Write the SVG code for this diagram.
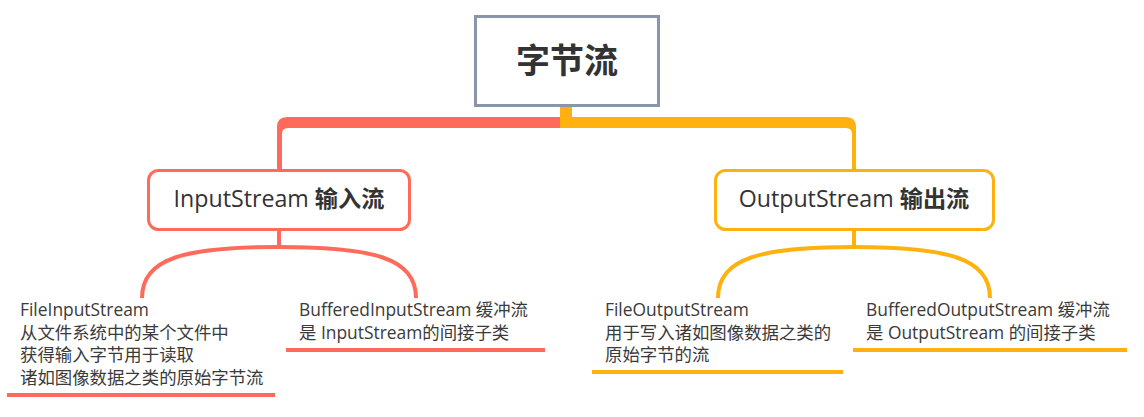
<svg xmlns="http://www.w3.org/2000/svg" width="1144" height="417" viewBox="0 0 1144 417">
<style>
.bg{fill:#ffffff}
.root{fill:#ffffff;stroke:#8a96a8;stroke-width:3}
.in{fill:#ffffff;stroke:#ff6b5b;stroke-width:3}
.out{fill:#ffffff;stroke:#ffb20f;stroke-width:3}
.t{font-family:"Open Sans","Noto Sans CJK SC",sans-serif;fill:#333333}
.h{font-size:23.2px}
.cjkb{font-family:"Noto Sans CJK SC",sans-serif;font-weight:bold}
.d{font-family:"Open Sans","Noto Sans CJK SC",sans-serif;font-size:17.4px;fill:#3a3a3a}
.redf{fill:#ff6b5b}
.yelf{fill:#ffb20f}
.reds{fill:none;stroke:#ff6b5b;stroke-width:4}
.yels{fill:none;stroke:#ffb20f;stroke-width:4}
</style>
<rect class="bg" x="0" y="0" width="1144" height="417"/>
<g id="connectors">
  <path class="redf" d="M566,117 H287 Q277,117 277,127 V170 H282 V134 Q282,128 288,128 H566 Z"/>
  <path class="yelf" d="M560,106 H572 V117 H846 Q856,117 856,127 V170 H852 V134 Q852,128 846,128 H560 Z"/>
  <path class="reds" d="M279,231 V247"/>
  <path class="reds" d="M142,298 C142,258 185,247 279,247 C373,247 416,258 416,298"/>
  <path class="yels" d="M854,231 V247"/>
  <path class="yels" d="M718,298 C718,258 761,247 854,247 C947,247 990,258 990,298"/>
  <path class="reds" d="M7,395 H275"/>
  <path class="reds" d="M286,350 H545"/>
  <path class="yels" d="M592,372 H843"/>
  <path class="yels" d="M853,350 H1127"/>
</g>
<g id="root">
  <rect class="root" x="475.5" y="16.5" width="183" height="89"/>
  <text class="cjkb" x="567" y="73" font-size="34" fill="#333333" text-anchor="middle">字节流</text>
</g>
<g id="inputstream">
  <rect class="in" x="148.5" y="170.5" width="261" height="59" rx="10"/>
  <text class="t h" x="279" y="207" text-anchor="middle">InputStream <tspan class="cjkb">输入流</tspan></text>
</g>
<g id="outputstream">
  <rect class="out" x="715.5" y="170.5" width="278" height="59" rx="10"/>
  <text class="t h" x="854" y="207" text-anchor="middle">OutputStream <tspan class="cjkb">输出流</tspan></text>
</g>
<g id="fileinputstream">
  <text class="d" x="20" y="316">FileInputStream</text>
  <text class="d" x="20" y="338.5">从文件系统中的某个文件中</text>
  <text class="d" x="20" y="361">获得输入字节用于读取</text>
  <text class="d" x="20" y="383.5">诸如图像数据之类的原始字节流</text>
</g>
<g id="bufferedinputstream">
  <text class="d" x="299" y="316">BufferedInputStream 缓冲流</text>
  <text class="d" x="299" y="338.5">是 InputStream的间接子类</text>
</g>
<g id="fileoutputstream">
  <text class="d" x="605" y="316">FileOutputStream</text>
  <text class="d" x="605" y="338.5">用于写入诸如图像数据之类的</text>
  <text class="d" x="605" y="361">原始字节的流</text>
</g>
<g id="bufferedoutputstream">
  <text class="d" x="866" y="316">BufferedOutputStream 缓冲流</text>
  <text class="d" x="866" y="338.5">是 OutputStream 的间接子类</text>
</g>
</svg>
